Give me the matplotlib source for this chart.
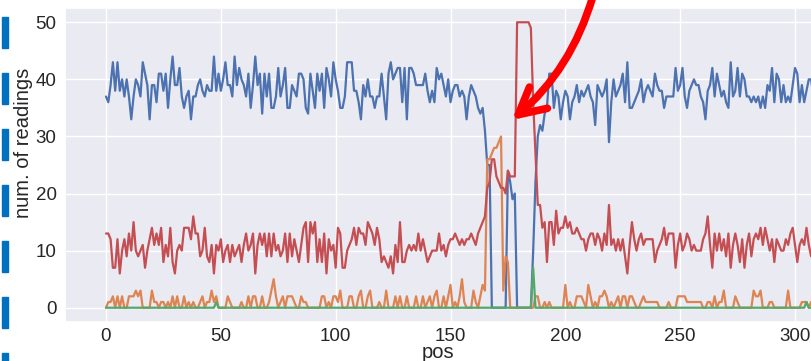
import matplotlib
matplotlib.use("Agg")
import matplotlib.pyplot as plt
import seaborn as sns
from matplotlib.patches import Rectangle

sns.set_theme(style="darkgrid")
plt.rcParams['font.family'] = ['Liberation Sans', 'DejaVu Sans']

# ---------------- data ----------------
blue = [
    37, 36, 39, 43, 38, 43, 38, 40, 37, 40,
    37, 33, 37, 40, 39, 37, 43, 41, 39, 33,
    39, 39, 36, 41, 41, 38, 41, 35, 40, 44,
    39, 39, 42, 37, 35, 37, 38, 33, 37, 37,
    39, 40, 38, 37, 39, 38, 38, 44, 38, 41,
    38, 40, 43, 39, 39, 37, 44, 39, 42, 40,
    39, 37, 41, 35, 39, 44, 39, 41, 34, 41,
    37, 41, 35, 35, 37, 42, 37, 39, 42, 35,
    35, 39, 38, 37, 41,
    41, 40, 35, 34, 41, 38, 35, 41, 38, 41,
    35, 42, 40, 37, 43, 40, 38, 35, 35, 37,
    43, 43, 43, 38, 38, 36, 33, 39, 37, 40,
    37, 37, 35, 37, 37, 41, 37, 33, 41, 43,
    40, 41, 42, 42, 36, 42, 33, 42, 42, 41,
    39, 39, 39, 39, 41, 38, 36, 38, 36, 42,
    40, 41, 39, 37, 40, 36, 38, 39, 39, 37,
    38, 37, 33, 37, 39, 38, 37, 35, 34, 35,
    31, 25, 25,
    0, 0, 0, 0, 0, 0, 0, 24, 22, 19, 20, 0,
    0, 0, 0, 0, 0, 0, 10, 22, 30,
    32, 31, 34, 35, 41, 41, 35, 38, 37, 33,
    36, 38, 37, 33, 36, 37, 39, 36, 38, 37,
    38, 39, 37, 36, 32, 39, 38, 37, 38, 40,
    29, 36, 40, 37, 38, 39, 41, 36, 43, 35,
    35, 36, 37, 38, 40, 36, 38, 39, 38, 37,
    41, 39, 38, 38, 35, 37, 37, 37, 37, 42,
    38, 39, 42, 37, 35, 38, 39, 40, 39, 39,
    37, 36, 33, 38, 39, 42, 37, 41, 39, 37,
    38, 36, 35, 43, 37, 38, 42, 37, 41, 40,
    37, 37, 36, 37, 36, 37, 35, 37, 35, 39,
    38, 42, 36, 41, 40, 36, 39, 36, 37, 36,
    39, 42, 41, 36, 39, 36, 38, 40, 40, 37,
    40, 39,
]

orange = [
    0, 1, 1, 2, 0, 2, 0, 2, 0, 0,
    2, 2, 2, 3, 2, 3, 0, 0, 0, 0,
    3, 1, 1, 0, 1, 1, 0, 1, 0, 2,
    0, 2, 0, 0, 2, 0, 1, 0, 1, 0,
    0, 1, 2, 0, 1, 1, 3, 1, 2, 0,
    0, 0, 0, 2, 1, 0, 0, 0, 0, 1,
    0, 0, 2, 0, 2, 2, 0, 0, 2, 0,
    0, 1, 3, 5, 2, 0, 1, 2, 0, 2,
    2, 2, 1, 0, 0, 2, 1, 1, 0, 0,
    0, 0, 0, 0, 2, 2, 0, 1, 0, 2,
    2, 1, 3, 0, 0, 0, 2, 2,
    0, 0, 2, 3, 0, 0, 2, 3, 0, 0,
    0, 1, 0, 0, 3, 0, 0, 0, 2, 0,
    2, 0, 0, 2, 0, 0, 0, 2, 0, 0,
    2, 0, 1, 2, 0, 2, 3, 0, 0, 2,
    0, 2, 4, 0, 1, 0, 2, 5, 1, 0,
    0, 0, 3, 1, 0, 2, 4, 3,
    26, 26, 27, 28, 28, 29, 30, 3, 9, 8,
    0, 0, 0, 0, 0, 0, 0, 0, 0, 0, 0,
    2, 2, 0, 0, 1, 0, 1, 0, 0, 0,
    0, 0, 0, 4, 0, 1, 0, 0, 2, 2,
    2, 1, 0, 4, 2, 0, 1, 0, 2, 2,
    3, 2, 0, 1, 0, 1, 2, 0, 2, 2,
    0, 2, 2, 1, 0, 0, 1, 2, 1, 1,
    1, 1, 1, 1, 0, 0, 0, 0, 1, 0,
    0, 0, 2, 2, 2, 2, 1, 1, 1, 1,
    1, 1, 1, 0, 0, 1, 1, 0, 2, 0,
    1, 1, 3, 0, 0, 0, 0, 2, 1, 0,
    0, 0, 0, 0, 0, 3, 2, 2, 3, 0,
    0, 0, 1, 1, 0, 0, 0, 0, 0, 0,
    3, 0, 0, 0, 0, 0, 1, 1, 1, 0,
    1, 0,
]

green_pos = [48, 186, 305]
green_val = [1, 7, 1]

red = [
    13, 13, 12, 7, 7, 12, 6, 10, 12, 9,
    13, 10, 15, 10, 9, 10, 11, 7, 10, 12,
    14, 11, 13, 11, 14, 8, 11, 9, 14, 8,
    6, 10, 11, 10, 14, 14, 14, 12, 16, 13,
    13, 9, 10, 14, 9, 8, 11, 6, 11, 10,
    12, 8, 10, 11, 8, 11, 9, 10, 11, 8,
    11, 13, 10, 11, 13, 6, 11, 13, 11, 13,
    9, 13, 9, 13, 10, 11, 9, 10,
    13, 8, 13, 9, 12, 10, 8, 11, 14, 15,
    8, 15, 13, 15, 8, 12, 8, 13, 6, 12,
    10, 11, 7, 14, 13, 7, 7, 10, 11, 12,
    14, 11, 14, 13, 13, 11, 15, 14, 13, 11,
    14, 12, 8, 9, 8, 7, 9, 6, 11, 8,
    15, 8, 8, 10, 11, 10, 11, 10, 13, 10,
    12, 10, 8, 9, 10, 10, 10, 13, 10, 11,
    9, 11, 12, 12, 13, 12, 11, 12, 11, 12,
    12, 13, 12, 11, 13, 14, 15, 16, 21, 22,
    26, 26, 23, 22, 21, 21, 20, 24, 23, 23,
    23, 50, 50, 50, 50, 50, 50, 49, 36, 27, 18,
    18, 14, 15, 8, 15, 15, 11, 17, 13, 14,
    14, 16, 14, 15, 13, 13, 14, 13, 12, 12,
    10, 12, 13, 13, 11, 13, 12, 10, 13, 11,
    18, 11, 12, 10, 12, 10, 12, 9, 6, 11,
    15, 12, 10, 12, 13, 11, 12, 12, 12, 12,
    8, 10, 11, 12, 14, 11, 13, 13, 13, 7,
    11, 13, 10, 11, 13, 12, 10, 11, 10, 10,
    10, 12, 13, 16, 11, 7, 13, 10, 13, 10,
    12, 9, 13, 7, 11, 13, 11, 8, 12, 7,
    11, 13, 9, 12, 13, 12, 14, 11, 14, 12,
    10, 12, 8, 12, 11, 10, 10, 12, 11, 13,
    14, 11, 8, 11, 12, 11, 14, 11, 9, 10,
    12, 11,
]

xticks = [0, 50, 100, 150, 200, 250, 300]
yticks = [0, 10, 20, 30, 40, 50]

green = [0] * len(blue)
for p, v in zip(green_pos, green_val):
    green[p] = v

W, H = 812, 361
fig = plt.figure(figsize=(W / 100, H / 100), dpi=100)
fig.patch.set_facecolor('white')
ax = fig.add_axes([65 / W, (H - 322) / H, (W - 65) / W, (322 - 8) / H])

cols = sns.color_palette("deep")
for s, c in zip([blue, orange, green, red], [cols[0], cols[1], cols[2], cols[3]]):
    ax.plot(range(len(s)), s, color=c, lw=1.6)

ax.set_xlim(-17.85, 307.4)
ax.set_ylim(-2.5, 52.5)
ax.set_xticks(xticks)
ax.set_yticks(yticks)
ax.tick_params(axis='both', labelsize=13.5, colors='#262626', length=0)
ax.tick_params(axis='y', pad=6)
ax.tick_params(axis='x', pad=4.2)
ax.set_ylabel("num. of readings", fontsize=14.5, color='#262626')
ax.yaxis.set_label_coords((33 - 65) / (W - 65), 0.57)
ax.set_xlabel("pos", fontsize=14.5, color='#262626')
ax.xaxis.set_label_coords(0.5, (322 - 343) / 314)

# blue marks on the left edge
for y0 in [17, 73, 129, 185, 241, 297, 353]:
    fig.patches.append(Rectangle((2 / W, 1 - (y0 + 31) / H), 6 / W, 31 / H,
                                 transform=fig.transFigure, color='#0070C0',
                                 zorder=5))

# red curved arrow
ax.annotate('', xy=(512 / W, 1 - 120 / H), xycoords='figure fraction',
            xytext=(593 / W, 1 + 4 / H), textcoords='figure fraction',
            arrowprops=dict(arrowstyle='->,head_length=0.95,head_width=0.5',
                            lw=5.5, color='#FF0000', mutation_scale=20,
                            connectionstyle='arc3,rad=-0.15',
                            shrinkA=0, shrinkB=0),
            annotation_clip=False)

fig.savefig("out.png", dpi=100)
